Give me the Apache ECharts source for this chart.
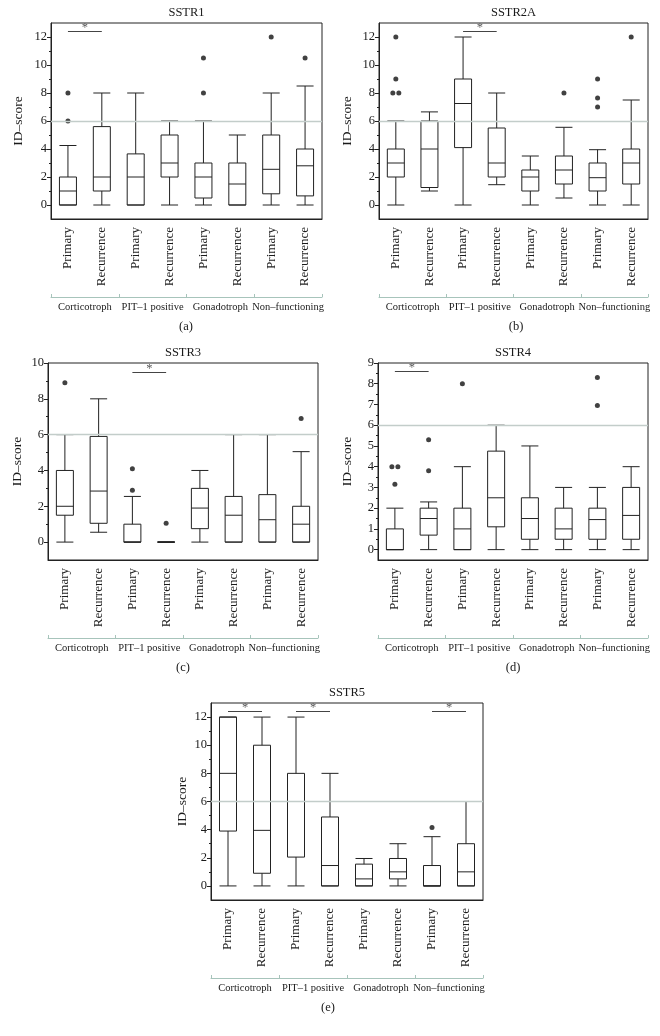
<!DOCTYPE html>
<html>
<head>
<meta charset="utf-8">
<script src="https://cdn.jsdelivr.net/npm/echarts@6/dist/echarts.min.js"></script>
<style>
html,body{margin:0;padding:0;background:#fff;}
#chart{width:660px;height:1036px;}
</style>
</head>
<body>
<div id="chart"></div>
<script>
// ---- Data ----
const categories = ['Primary','Recurrence','Primary','Recurrence','Primary','Recurrence','Primary','Recurrence'];
const groups = ['Corticotroph','PIT\u20131 positive','Gonadotroph','Non\u2013functioning'];
const refValue = 6;

// box = [lower whisker, Q1, median, Q3, upper whisker]
const sstr1Box = [[0,0,1,2,4.25],[0,1,2,5.6,8],[0,0,2,3.65,8],[0,2,3,5,6],[0,0.5,2,3,6],[0,0,1.5,3,5],[0,0.8,2.55,5,8],[0,0.65,2.8,4,8.5]];
const sstr1Out = [[0,6],[0,8],[4,8],[4,10.5],[6,12],[7,10.5]];
const sstr1Sig = [[0,1,12.4]];

const sstr2aBox = [[0,2,3,4,6],[1,1.25,4,6,6.65],[0,4.1,7.25,9,12],[1.45,2,3,5.5,8],[0,1,2,2.5,3.5],[0.5,1.5,2.5,3.5,5.55],[0,1,1.95,3,3.95],[0,1.5,3,4,7.5]];
const sstr2aOut = [[0,8],[0,8],[0,9],[0,12],[5,8],[6,7],[6,7.65],[6,9],[7,12]];
const sstr2aSig = [[2,3,12.4]];

const sstr3Box = [[0,1.5,2,4,6],[0.55,1.05,2.85,5.9,8],[0,0,0,1,2.55],[0,0,0,0,0],[0,0.75,1.9,3,4],[0,0,1.5,2.55,6],[0,0,1.25,2.65,6],[0,0,1,2,5.05]];
const sstr3Out = [[0,8.9],[2,2.9],[2,4.1],[3,1.05],[7,6.9]];
const sstr3Sig = [[2,3,9.5]];

const sstr4Box = [[0,0,0,1,2],[0,0.7,1.5,2,2.3],[0,0,1,2,4],[0,1.1,2.5,4.75,6],[0,0.5,1.5,2.5,5],[0,0.5,1,2,3],[0,0.5,1.45,2,3],[0,0.5,1.65,3,4]];
const sstr4Out = [[0,3.15],[0,4],[0,4],[1,3.8],[1,5.3],[2,8],[6,6.95],[6,8.3]];
const sstr4Sig = [[0,1,8.6]];

const sstr5Box = [[0,3.9,8,12,12],[0,0.9,3.95,10,12],[0,2.05,6,8,12],[0,0,1.45,4.9,8],[0,0,0.5,1.55,1.95],[0,0.5,1,1.95,3],[0,0,0,1.45,3.5],[0,0,1,3,6]];
const sstr5Out = [[6,4.15]];
const sstr5Sig = [[0,1,12.4],[2,3,12.4],[6,7,12.4]];

const ticks12 = [0,2,4,6,8,10,12];
const ticks10 = [0,2,4,6,8,10];
const ticks9 = [0,1,2,3,4,5,6,7,8,9];

// ---- Layout ----
const SERIF = '"Liberation Serif","DejaVu Serif",serif';
const panels = [
  {name:'SSTR1', box:sstr1Box, out:sstr1Out, sig:sstr1Sig, ticks:ticks12, min:-1, max:13, left:51, top:23, width:271, height:196, cap:'(a)', capX:186, nameGap:26},
  {name:'SSTR2A', box:sstr2aBox, out:sstr2aOut, sig:sstr2aSig, ticks:ticks12, min:-1, max:13, left:379, top:23, width:269, height:196, cap:'(b)', capX:516, nameGap:25},
  {name:'SSTR3', box:sstr3Box, out:sstr3Out, sig:sstr3Sig, ticks:ticks10, min:-1, max:10, left:48, top:363, width:270, height:197, cap:'(c)', capX:183, nameGap:24},
  {name:'SSTR4', box:sstr4Box, out:sstr4Out, sig:sstr4Sig, ticks:ticks9, min:-0.5, max:9, left:378, top:363, width:270, height:197, cap:'(d)', capX:513, nameGap:24},
  {name:'SSTR5', box:sstr5Box, out:sstr5Out, sig:sstr5Sig, ticks:ticks12, min:-1, max:13, left:211, top:703, width:272, height:197, cap:'(e)', capX:328, nameGap:22}
];

function minorOf(t){ const m=[]; for(let i=0;i<t.length-1;i++) m.push((t[i]+t[i+1])/2); return m; }

const grid=[], xAxis=[], yAxis=[], series=[], graphic=[];
panels.forEach((p,i)=>{
  grid.push({left:p.left, top:p.top, width:p.width, height:p.height, show:true, borderColor:'#222', borderWidth:1, backgroundColor:'transparent'});
  xAxis.push({type:'category', gridIndex:i, data:categories, boundaryGap:true, position:'bottom',
    axisLine:{onZero:false, lineStyle:{color:'#222', width:1}},
    axisTick:{alignWithLabel:true, length:4, lineStyle:{color:'#222'}},
    axisLabel:{rotate:90, interval:0, margin:8, fontSize:13, fontFamily:SERIF, color:'#1a1a1a'},
    splitLine:{show:false}});
  xAxis.push({type:'category', gridIndex:i, data:groups, boundaryGap:true, position:'bottom', offset:78,
    axisLine:{onZero:false, lineStyle:{color:'#a7c4bb', width:1}},
    axisTick:{show:true, inside:true, interval:0, length:3, lineStyle:{color:'#a7c4bb'}},
    axisLabel:{interval:0, margin:5, fontSize:10.5, fontFamily:SERIF, color:'#1a1a1a'},
    splitLine:{show:false}});
  yAxis.push({type:'value', gridIndex:i, min:p.min, max:p.max, position:'left',
    axisLine:{show:true, onZero:false, lineStyle:{color:'#222'}},
    axisTick:{show:true, length:4, customValues:p.ticks, lineStyle:{color:'#222'}},
    axisLabel:{customValues:p.ticks, margin:4, fontSize:12.5, fontFamily:SERIF, color:'#1a1a1a'},
    splitLine:{show:false},
    name:'ID\u2013score', nameLocation:'middle', nameGap:p.nameGap,
    nameTextStyle:{fontSize:13.5, fontFamily:SERIF, color:'#1a1a1a'}});
  yAxis.push({type:'value', gridIndex:i, min:p.min, max:p.max, position:'left',
    axisLine:{show:false, onZero:false},
    axisTick:{show:true, length:2, customValues:minorOf(p.ticks), lineStyle:{color:'#222'}},
    axisLabel:{show:false}, splitLine:{show:false}});
  const xi=2*i, yi=2*i;
  // reference line
  series.push({type:'line', xAxisIndex:xi, yAxisIndex:yi, data:[], z:1, silent:true,
    markLine:{silent:true, symbol:['none','none'], label:{show:false},
      lineStyle:{color:'#c3cdca', width:1.3, type:'solid'}, data:[{yAxis:refValue}]}});
  // boxes
  series.push({type:'boxplot', xAxisIndex:xi, yAxisIndex:yi, data:p.box, boxWidth:[17,17], z:3,
    itemStyle:{color:'#fff', borderColor:'#222', borderWidth:1}, emphasis:{disabled:true}});
  // outliers (duplicates nudged sideways)
  const seen={};
  const outData = p.out.map(d=>{
    const k=d[0]+'_'+d[1]; seen[k]=(seen[k]||0)+1;
    const dup = p.out.filter(e=>e[0]===d[0]&&e[1]===d[1]).length;
    const off = dup>1 ? (seen[k]===1?-3:3) : 0;
    return {value:d, symbolOffset:[off,0]};
  });
  series.push({type:'scatter', xAxisIndex:xi, yAxisIndex:yi, data:outData, symbol:'circle', symbolSize:5, z:4,
    itemStyle:{color:'#111'}});
  // significance bars
  series.push({type:'line', xAxisIndex:xi, yAxisIndex:yi, data:[], z:4, silent:true,
    markLine:{silent:true, symbol:['none','none'],
      lineStyle:{color:'#444', width:1, type:'solid'},
      label:{show:true, position:'middle', formatter:'*', color:'#5a5a5a', fontSize:12.5, fontFamily:SERIF, distance:-3},
      data:p.sig.map(s=>[{coord:[s[0],s[2]]},{coord:[s[1],s[2]]}])}});
  // title and caption
  graphic.push({type:'text', x:p.left+p.width/2, y:p.top-10, silent:true,
    style:{text:p.name, fontSize:12.5, fontFamily:SERIF, fill:'#1a1a1a', align:'center', verticalAlign:'middle'}});
  graphic.push({type:'text', x:p.capX, y:p.top+p.height+108, silent:true,
    style:{text:p.cap, fontSize:12.5, fontFamily:SERIF, fill:'#1a1a1a', align:'center', verticalAlign:'middle'}});
});

const chart = echarts.init(document.getElementById('chart'), null, {renderer:'canvas'});
chart.setOption({animation:false, backgroundColor:'#fff', grid, xAxis, yAxis, series, graphic});
</script>
</body>
</html>
